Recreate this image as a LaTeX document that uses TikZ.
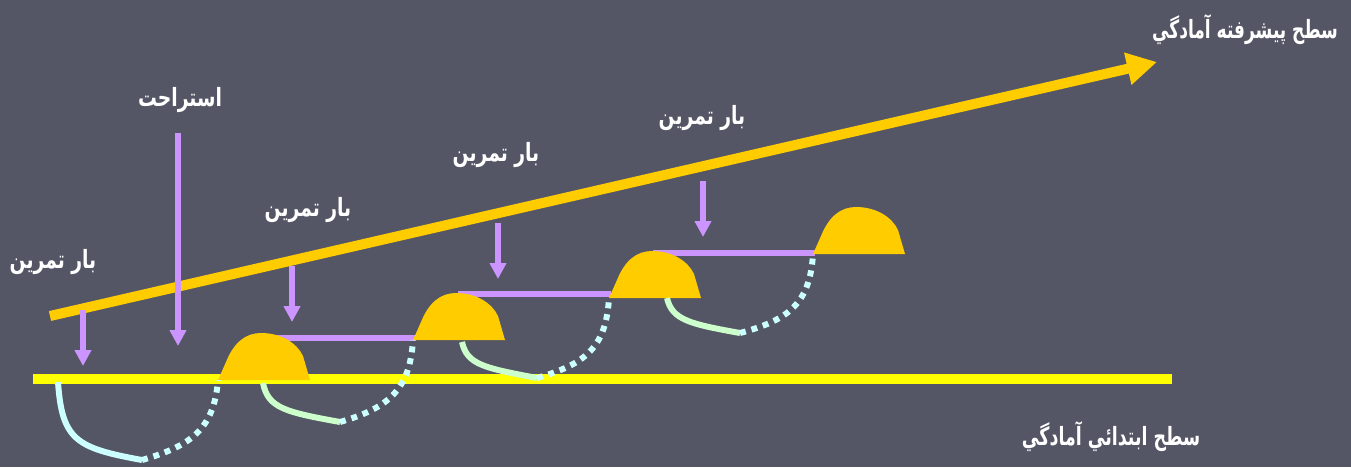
\documentclass[tikz,border=0pt]{standalone}
\usepackage{graphicx}
\usepackage{fontspec}
\newfontfamily\arabicfont[Script=Arabic]{DejaVu Sans}
\TeXXeTstate=1
\usetikzlibrary{arrows.meta, positioning}

\definecolor{slate}{RGB}{85,86,101}
\definecolor{gold}{RGB}{255,204,0}
\definecolor{lemon}{RGB}{255,255,0}
\definecolor{lilac}{RGB}{204,148,255}
\definecolor{mint}{RGB}{204,255,204}
\definecolor{ice}{RGB}{204,255,255}

% Persian label, optionally narrowed
\newcommand{\fa}[2][0.97]{\scalebox{#1}[1.3]{\beginR #2\endR}}

\begin{document}
\begin{tikzpicture}[
    x=0.02cm, y=-0.02cm,
    lbl/.style={text=white, inner sep=0pt, font=\arabicfont\bfseries\fontsize{11}{13}\selectfont},
    load/.style={draw=lilac, line width=3.4pt, -{Triangle[length=0.32cm, width=0.32cm]}},
    plateau/.style={draw=lilac, line width=3.4pt},
    hump/.style={fill=gold},
    fall/.style={draw=#1, line width=3.4pt},
    rise/.style={draw=ice, line width=3.4pt, dash pattern=on 3.4pt off 3.4pt}]

% background
\fill[slate] (0,0) rectangle (1351,467);

% levels
\coordinate (b0) at (33,379);
\coordinate (b1) at (1172,379);
\coordinate (t0) at (50,316);
\coordinate (t1) at (1157,62);
\draw[lemon, line width=5.4pt] (b0) -- (b1);
\draw[gold, line width=5.7pt, -{Triangle[length=0.6cm, width=0.62cm]}] (t0) -- (t1);

\node[lbl] (top) at (1245,30) {\fa[0.88]{سطح پيشرفته آمادگي}};
\node[lbl] (base) at (1111,437) {\fa[0.9]{سطح ابتدائي آمادگي}};

% plateaus
\draw[plateau] (263,338) -- (415,338);
\draw[plateau] (458,294) -- (611,294);
\draw[plateau] (653,253) -- (815,253);

% humps
\foreach \x/\y in {218/380, 413/340, 609/298, 813/254}
  \fill[hump] (\x,\y) -- ++(8,-18) .. controls +(8,-20) and +(-15,0) .. ++(35,-29)
      .. controls +(20,0) and +(-6,-13) .. ++(42,23) -- ++(7,24) -- cycle;

% loads
\node[lbl] (l1) at (53,262) {\fa{بار تمرين}};
\node[lbl] (rest) at (180,100) {\fa{استراحت}};
\node[lbl] (l2) at (308,210) {\fa{بار تمرين}};
\node[lbl] (l3) at (496,155) {\fa{بار تمرين}};
\node[lbl] (l4) at (702,118) {\fa{بار تمرين}};

\coordinate (a1) at (83,310);   \coordinate (e1) at (83,366);
\coordinate (ar) at (178,133);  \coordinate (er) at (178,346);
\coordinate (a2) at (292,266);  \coordinate (e2) at (292,322);
\coordinate (a3) at (498,223);  \coordinate (e3) at (498,279);
\coordinate (a4) at (703,181);  \coordinate (e4) at (703,237);
\foreach \s/\e in {a1/e1, ar/er, a2/e2, a3/e3, a4/e4}
  \draw[load] (\s) -- (\e);

% fatigue and recovery
\coordinate (f0) at (58,382);   \coordinate (g0) at (142,460);
\coordinate (f1) at (263,383);  \coordinate (g1) at (340,422);
\coordinate (f2) at (462,342);  \coordinate (g2) at (537,378);
\coordinate (f3) at (667,298);  \coordinate (g3) at (740,333);
\coordinate (h1) at (218,380);
\coordinate (h2) at (413,340);
\coordinate (h3) at (609,298);
\coordinate (h4) at (813,254);

\draw[fall=ice] (f0) .. controls (62,440) and (76,448) .. (g0);
\draw[fall=mint] (f1) .. controls (268,408) and (285,412) .. (g1);
\draw[fall=mint] (f2) .. controls (467,365) and (485,368) .. (g2);
\draw[fall=mint] (f3) .. controls (672,320) and (690,324) .. (g3);

\draw[rise] (g0) .. controls (190,446) and (214,430) .. (h1);
\draw[rise] (g1) .. controls (388,408) and (410,390) .. (h2);
\draw[rise] (g2) .. controls (585,364) and (606,348) .. (h3);
\draw[rise] (g3) .. controls (788,320) and (810,304) .. (h4);
\end{tikzpicture}
\end{document}
